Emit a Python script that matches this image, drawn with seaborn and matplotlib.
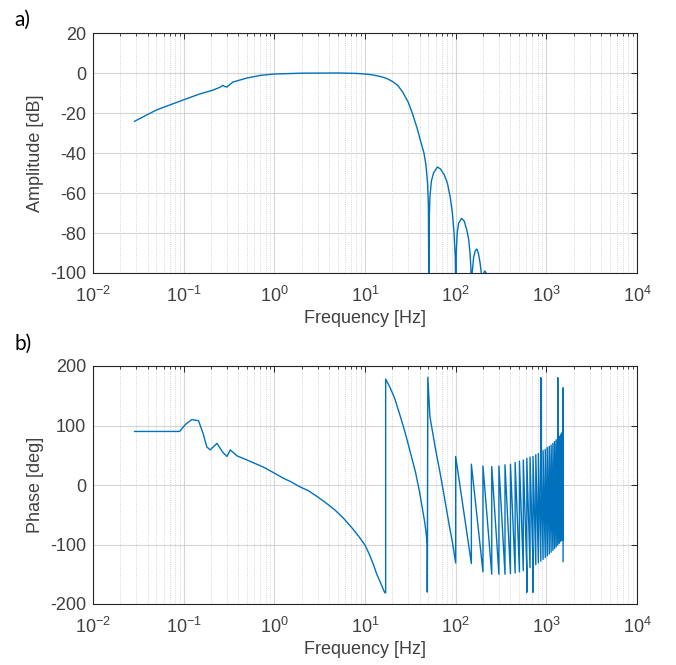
import numpy as np
import pandas as pd
import matplotlib
matplotlib.use("Agg")
import matplotlib.pyplot as plt
import seaborn as sns
from matplotlib.ticker import LogLocator, LogFormatterSciNotation, NullFormatter, FixedLocator

# ---------------- data ----------------
# Amplitude response
amp_freq = [0.0286, 0.05, 0.1, 0.15, 0.206, 0.25, 0.27, 0.285, 0.3, 0.35, 0.5, 0.7,
            1.0, 2.0, 5.0, 8.0, 10.0, 12.0, 14.0, 16.0, 17.7, 20.0, 23.0, 26.0, 30.0,
            33.5, 37.8, 41.0, 44.7, 47.0, 49.0, 50.0, 50.7,
            51.0, 52.0, 54.0, 57.0, 62.8, 68.0, 75.0, 81.0, 87.0, 92.0, 96.0, 99.0, 100.5,
            101.5, 104.0, 108.0, 116.0, 124.0, 132.0, 139.0, 144.0, 147.0, 150.0,
            152.0, 158.0, 164.0, 171.0, 178.0, 186.0, 194.0, 210.0, 224.0]
amp_db = [-24.2, -18.5, -13.4, -10.5, -8.7, -7.2, -6.2, -6.8, -7.0, -4.5, -2.5, -1.2,
          -0.5, -0.1, 0.0, -0.2, -0.5, -0.9, -1.5, -2.2, -2.9, -4.2, -6.2, -9.5, -14.6,
          -20.5, -28.0, -34.0, -40.0, -46.0, -55.0, -66.0, -115.0,
          -75.0, -62.0, -54.0, -50.0, -47.0, -48.0, -51.0, -55.0, -62.0, -70.0, -80.0, -92.0, -115.0,
          -90.0, -80.0, -75.0, -72.7, -74.0, -78.0, -83.0, -90.0, -97.0, -115.0,
          -100.0, -92.0, -89.0, -88.0, -90.0, -95.0, -102.0, -99.0, -101.0]

# Phase response, low-frequency part (up to first wrap)
ph_low_freq = [0.0286, 0.09, 0.105, 0.123, 0.146, 0.165, 0.18, 0.196, 0.233, 0.27,
               0.30, 0.327, 0.387, 0.5, 0.76, 1.0, 1.27, 1.5, 1.91, 2.4, 3.0, 3.7,
               4.66, 5.8, 7.27, 8.5, 10.0, 11.2, 12.4, 13.5, 15.0, 16.5]
ph_low_deg = [90, 90, 102, 110, 108, 85, 64, 59, 70, 55, 48, 59, 49, 42, 30, 20, 11,
              6, -3, -10, -20, -30, -42, -56, -73, -86, -101, -117, -134, -150, -166, -181]

# Phase, 16.9 Hz - 100 Hz (two wraps)
ph_mid_freq = [16.9, 16.9, 19.0, 21.2, 24.0, 27.5, 31.0, 36.0, 40.0, 43.0, 45.5,
               47.0, 48.6, 48.6, 49.3, 52.0, 60.0, 67.0, 75.0, 85.0, 93.0, 100.0]
ph_mid_deg = [-181, 178, 163, 146, 120, 90, 60, 22, -12, -40, -62, -78, -100, -180,
              181, 115, 60, 22, -20, -68, -100, -131]

# Phase sawtooth above 100 Hz: tooth boundaries, tooth tops and bottoms
tooth_freq = [100, 149, 200, 250, 300, 350, 402, 453, 505, 557, 609, 661, 713, 765,
              817, 869, 921, 973, 1025, 1077, 1129, 1181, 1233, 1285, 1337, 1389,
              1441, 1493, 1530]
tooth_top = [48, 35, 32, 31, 32, 34, 35, 38, 40, 42, 45, 47, 48, 51, 53, 56, 58, 60,
             63, 65, 67, 70, 73, 76, 79, 82, 85, 88]
tooth_bottom = [-132, -146, -150, -150, -150, -149, -148, -146, -144, -142, -139,
                -137, -134, -131, -128, -125, -122, -119, -116, -113, -110, -107,
                -104, -101, -98, -95, -93, -92]
# spikes at some wrap points (frequency -> spike value)
spike_freq = [609, 713, 869, 1337]
spike_deg = [-180, -180, 180, 180]
# final vertical segment at the end of the record
end_freq = [1530, 1530]
end_deg = [163, -129]

# ---------------- assemble phase trace ----------------
pf = list(ph_low_freq) + list(ph_mid_freq)
pd_ = list(ph_low_deg) + list(ph_mid_deg)
spikes = dict(zip(spike_freq, spike_deg))
for i in range(len(tooth_top)):
    pf.append(tooth_freq[i]); pd_.append(tooth_top[i])
    pf.append(tooth_freq[i + 1]); pd_.append(tooth_bottom[i])
    if tooth_freq[i + 1] in spikes:
        pf.append(tooth_freq[i + 1]); pd_.append(spikes[tooth_freq[i + 1]])
pf += end_freq
pd_ += end_deg

df_amp = pd.DataFrame({"Frequency": amp_freq, "Amplitude": amp_db})
df_ph = pd.DataFrame({"Frequency": pf, "Phase": pd_})

# ---------------- style ----------------
sns.set_theme(style="white")
plt.rcParams["font.family"] = ["Liberation Sans", "DejaVu Sans"]
plt.rcParams["mathtext.fontset"] = "custom"
plt.rcParams["mathtext.rm"] = "Liberation Sans"
plt.rcParams["mathtext.it"] = "Liberation Sans:italic"
plt.rcParams["mathtext.bf"] = "Liberation Sans:bold"
plt.rcParams["axes.unicode_minus"] = False

W, H = 676, 665
fig = plt.figure(figsize=(W / 100, H / 100), dpi=100)
ax1 = fig.add_axes([93 / W, 1 - 273 / H, 544 / W, 240 / H])
ax2 = fig.add_axes([93 / W, 1 - 604 / H, 544 / W, 238 / H])

line_color = "#0072BD"
txt_color = "#404040"

sns.lineplot(data=df_amp, x="Frequency", y="Amplitude", ax=ax1, sort=False,
             estimator=None, color=line_color, lw=1.0)
sns.lineplot(data=df_ph, x="Frequency", y="Phase", ax=ax2, sort=False,
             estimator=None, color=line_color, lw=1.0)

xmajor = [1e-2, 1e-1, 1e0, 1e1, 1e2, 1e3, 1e4]
for ax, ylim, yticks, ylabel in [
    (ax1, (-100, 20), [-100, -80, -60, -40, -20, 0, 20], "Amplitude [dB]"),
    (ax2, (-200, 200), [-200, -100, 0, 100, 200], "Phase [deg]"),
]:
    ax.set_xscale("log")
    ax.set_xlim(1e-2, 1e4)
    ax.set_ylim(*ylim)
    ax.set_yticks(yticks)
    ax.xaxis.set_major_locator(FixedLocator(xmajor))
    minors = [m * d for d in xmajor[:-1] for m in range(2, 10)]
    ax.xaxis.set_minor_locator(FixedLocator(minors))
    ax.xaxis.set_major_formatter(LogFormatterSciNotation())
    ax.xaxis.set_minor_formatter(NullFormatter())
    ax.grid(True, which="major", color="#d6d6d6", lw=0.8, ls="-")
    ax.grid(True, which="minor", axis="x", color="#c8c8c8", lw=0.6, ls=":")
    ax.set_axisbelow(True)
    ax.tick_params(which="both", direction="in", top=True, right=True,
                   colors="#262626", labelcolor=txt_color, labelsize=13)
    ax.tick_params(which="major", length=4, width=0.7)
    ax.tick_params(which="minor", length=2.5, width=0.6)
    ax.tick_params(axis="x", which="both", pad=9)
    ax.tick_params(axis="y", which="both", pad=5)
    for s in ax.spines.values():
        s.set_color("#262626")
        s.set_linewidth(0.8)
        s.set_visible(True)
    ax.set_xlabel("Frequency [Hz]", fontsize=13, color=txt_color, labelpad=3)
    ax.set_ylabel(ylabel, fontsize=13, color=txt_color, labelpad=4)

fig.text(14 / W, 1 - 26 / H, "a)", fontsize=15, family=["Lato", "DejaVu Sans"],
         color="black")
fig.text(14 / W, 1 - 350 / H, "b)", fontsize=15, family=["Lato", "DejaVu Sans"],
         color="black")

fig.savefig("out.png", dpi=100, facecolor="white")
